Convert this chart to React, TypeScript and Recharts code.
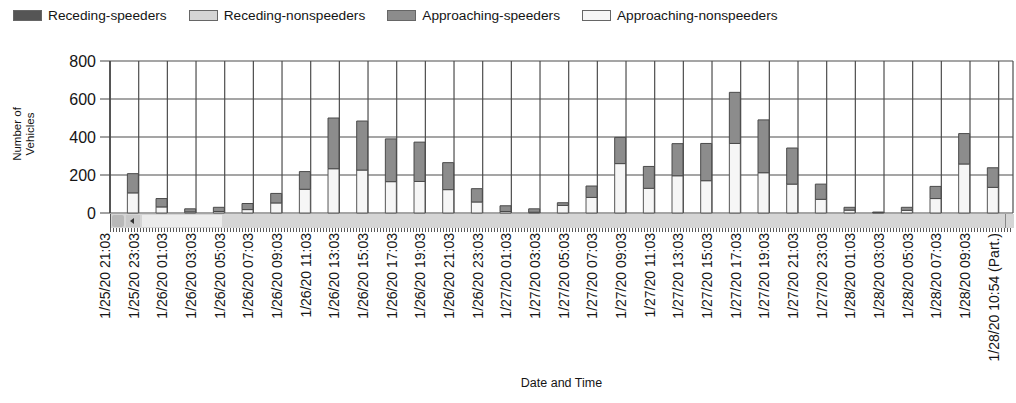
import { BarChart, Bar, XAxis, YAxis, CartesianGrid } from 'recharts';

const categories = [
  '1/25/20 21:03', '1/25/20 23:03', '1/26/20 01:03', '1/26/20 03:03', '1/26/20 05:03',
  '1/26/20 07:03', '1/26/20 09:03', '1/26/20 11:03', '1/26/20 13:03', '1/26/20 15:03',
  '1/26/20 17:03', '1/26/20 19:03', '1/26/20 21:03', '1/26/20 23:03', '1/27/20 01:03',
  '1/27/20 03:03', '1/27/20 05:03', '1/27/20 07:03', '1/27/20 09:03', '1/27/20 11:03',
  '1/27/20 13:03', '1/27/20 15:03', '1/27/20 17:03', '1/27/20 19:03', '1/27/20 21:03',
  '1/27/20 23:03', '1/28/20 01:03', '1/28/20 03:03', '1/28/20 05:03', '1/28/20 07:03',
  '1/28/20 09:03', '1/28/20 10:54 (Part.)',
];

const approachingNonspeeders = [
  0, 106, 32, 6, 8, 18, 53, 125, 233, 226, 165, 166, 123, 58, 8, 4,
  40, 82, 260, 130, 196, 170, 366, 212, 152, 72, 15, 2, 14, 76, 258, 135,
];
const approachingSpeeders = [
  0, 101, 44, 16, 22, 32, 50, 93, 267, 258, 225, 207, 142, 70, 30, 18,
  14, 60, 138, 115, 169, 196, 269, 278, 190, 80, 15, 3, 16, 64, 160, 103,
];
const recedingNonspeeders = [
  0, 0, 0, 0, 0, 0, 0, 0, 0, 0, 0, 0, 0, 0, 0, 0,
  0, 0, 0, 0, 0, 0, 0, 0, 0, 0, 0, 0, 0, 0, 0, 0,
];
const recedingSpeeders = [
  0, 0, 0, 0, 0, 0, 0, 0, 0, 0, 0, 0, 0, 0, 0, 0,
  0, 0, 0, 0, 0, 0, 0, 0, 0, 0, 0, 0, 0, 0, 0, 0,
];

const yTicks = [0, 200, 400, 600, 800];

const legendItems = [
  { name: 'Receding-speeders', color: '#555555' },
  { name: 'Receding-nonspeeders', color: '#d4d4d4' },
  { name: 'Approaching-speeders', color: '#8c8c8c' },
  { name: 'Approaching-nonspeeders', color: '#f6f6f6' },
];

const data = categories.map((name, i) => ({
  name,
  aNon: approachingNonspeeders[i],
  aSpd: approachingSpeeders[i],
  rNon: recedingNonspeeders[i],
  rSpd: recedingSpeeders[i],
}));

const FONT = "'Liberation Sans', Arial, sans-serif";
const INK = '#151515';

function DateTick({ x, y, payload }: any) {
  return (
    <g transform={`translate(${x},${y})`}>
      <text transform="rotate(-90)" textAnchor="end" fontSize={14} fill={INK} fontFamily={FONT}>
        {payload.value}
      </text>
    </g>
  );
}

function YTitle() {
  return (
    <text transform="translate(21,134) rotate(-90)" textAnchor="middle" fontSize={11.5} fill={INK} fontFamily={FONT}>
      <tspan x={0} dy={0}>Number of</tspan>
      <tspan x={0} dy={13}>Vehicles</tspan>
    </text>
  );
}

function Legend() {
  return (
    <div style={{ position: 'absolute', left: 13, top: 8, display: 'flex', alignItems: 'center', fontSize: 13.7, color: INK, fontFamily: FONT }}>
      {legendItems.map((item) => (
        <div key={item.name} style={{ display: 'flex', alignItems: 'center', marginRight: 22 }}>
          <div style={{ width: 27, height: 9, background: item.color, border: '1px solid #666', marginRight: 6 }} />
          <span>{item.name}</span>
        </div>
      ))}
    </div>
  );
}

function ScrollStrip() {
  return (
    <>
      <div style={{ position: 'absolute', left: 110, top: 214, width: 903, height: 14, background: '#d5d5d5', borderLeft: '1px solid #555' }} />
      <div style={{ position: 'absolute', left: 142, top: 215, width: 80, height: 12, background: '#ececec' }} />
      <div style={{ position: 'absolute', left: 112, top: 215, width: 12, height: 12, background: '#b8b8b8', borderRadius: 2 }} />
      <div style={{ position: 'absolute', left: 126, top: 215, width: 14, height: 12, background: '#c8c8c8' }} />
      <div style={{ position: 'absolute', left: 130, top: 218, width: 0, height: 0, borderTop: '3px solid transparent', borderBottom: '3px solid transparent', borderRight: '4px solid #333' }} />
      <div style={{ position: 'absolute', left: 1005, top: 214, width: 1, height: 14, background: '#888' }} />
      <div style={{ position: 'absolute', left: 110, top: 228, width: 903, height: 4, background: 'repeating-linear-gradient(to right, #555 0 1px, transparent 1px 3px)' }} />
    </>
  );
}

export default function App() {
  return (
    <div style={{ position: 'absolute', left: 0, top: 0, width: 1016, height: 403, background: '#fff', fontFamily: FONT }}>
      <BarChart
        width={1016}
        height={403}
        data={data}
        margin={{ top: 61, right: 3, bottom: 0, left: 0 }}
        barGap={0}
        barSize={11}
      >
        <CartesianGrid stroke="#4d4d4d" strokeWidth={1.2} />
        <XAxis
          dataKey="name"
          interval={0}
          height={190}
          padding={{ left: -14.3, right: 0 }}
          axisLine={false}
          tickLine={false}
          tickSize={0}
          tickMargin={20}
          tick={<DateTick />}
          label={{ value: 'Date and Time', position: 'insideBottom', offset: 16, fontSize: 12.5, fill: INK }}
        />
        <YAxis
          width={110}
          domain={[0, 800]}
          ticks={yTicks}
          interval={0}
          axisLine={{ stroke: '#444' }}
          tickLine={{ stroke: '#444' }}
          tickSize={10}
          tickMargin={4}
          tick={{ fontSize: 16, fill: INK }}
          label={<YTitle />}
        />
        <Bar dataKey="aNon" stackId="a" fill={legendItems[3].color} stroke="#555" isAnimationActive={false} />
        <Bar dataKey="aSpd" stackId="a" fill={legendItems[2].color} stroke="#4a4a4a" isAnimationActive={false} />
        <Bar dataKey="rNon" stackId="r" fill={legendItems[1].color} stroke="#555" isAnimationActive={false} />
        <Bar dataKey="rSpd" stackId="r" fill={legendItems[0].color} stroke="#444" isAnimationActive={false} />
      </BarChart>
      <ScrollStrip />
      <Legend />
    </div>
  );
}
